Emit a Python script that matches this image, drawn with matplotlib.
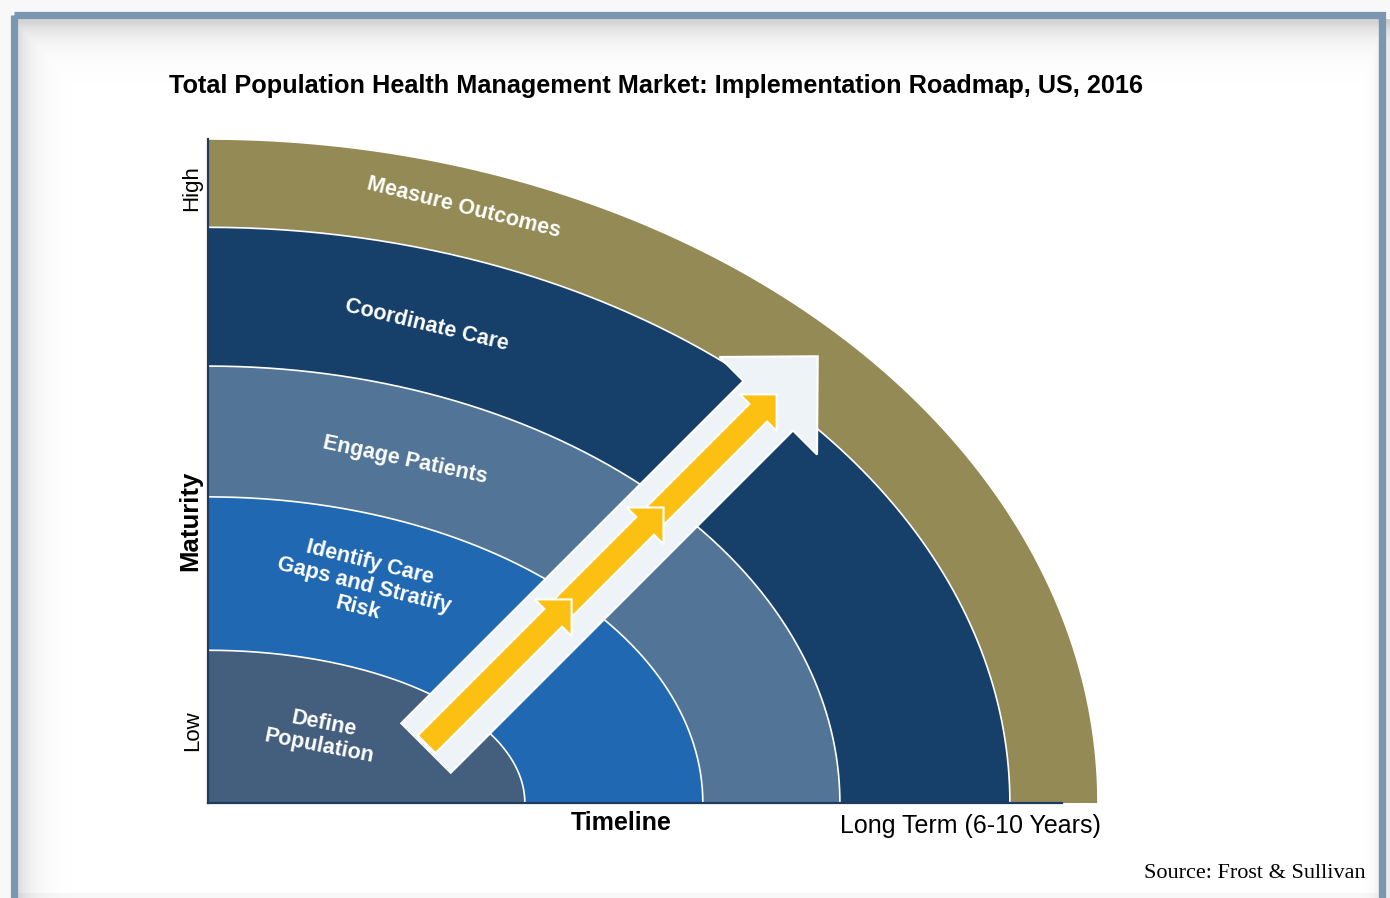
"""Total Population Health Management — implementation roadmap (quarter-ellipse stages)."""
import matplotlib.pyplot as plt
import numpy as np
from matplotlib.patches import Polygon, Rectangle

plt.rcParams["font.family"] = ["Liberation Sans", "DejaVu Sans"]

# ── 資料 ────────────────────────────────────────────────────────────
stages = [
    "Define\nPopulation",
    "Identify Care\nGaps and Stratify\nRisk",
    "Engage Patients",
    "Coordinate Care",
    "Measure Outcomes",
]
stage_colors = ["#445E7D", "#2068B2", "#527597", "#16406A", "#948A55"]
# 每個階段在時間軸 / 成熟度軸上的外緣（以整張圖的比例表示）
timeline_extent = [0.356, 0.556, 0.710, 0.901, 1.0]
maturity_extent = [0.230, 0.461, 0.658, 0.867, 1.0]

title = "Total Population Health Management Market: Implementation Roadmap, US, 2016"
y_label, y_low, y_high = "Maturity", "Low", "High"
x_label, x_end = "Timeline", "Long Term (6-10 Years)"
source = "Source: Frost & Sullivan"

# ── 版面（像素座標） ────────────────────────────────────────────────
W_PX, H_PX = 1390, 898
X0, Y0 = 208, 803          # 原點
CW, CH = 890, 664          # 圖區寬高
label_xy = [(0.128, 0.102), (0.175, 0.328), (0.221, 0.517), (0.246, 0.720), (0.287, 0.896)]
label_rot = [-11, -14, -12, -13.5, -14]


def to_px(tx, my):
    return X0 + tx * CW, Y0 - my * CH


def quarter(rx, ry, n=200):
    th = np.linspace(0, np.pi / 2, n)
    xs = X0 + rx * CW * np.cos(th)
    ys = Y0 - ry * CH * np.sin(th)
    return xs, ys


def arrow_poly(s0, s_head, s_tip, half_w, head_w, T, u, v):
    """依沿箭頭方向 (s) 與垂直方向 (t) 的座標組出箭頭多邊形。"""
    pts = [(s0, -half_w), (s_head, -half_w), (s_head, -head_w), (s_tip, 0),
           (s_head, head_w), (s_head, half_w), (s0, half_w)]
    return [(T[0] + s * u[0] + t * v[0], T[1] + s * u[1] + t * v[1]) for s, t in pts]


fig = plt.figure(figsize=(W_PX / 100, H_PX / 100), dpi=100, facecolor="#F8F8F8")
ax = fig.add_axes([0, 0, 1, 1])
ax.set_xlim(0, W_PX)
ax.set_ylim(H_PX, 0)
ax.axis("off")

# 外框與內陰影
ax.add_patch(Rectangle((17, 19), 1361, 874, facecolor="white", edgecolor="none", zorder=0))
yy, xx = np.mgrid[0:H_PX, 0:W_PX]
shade = np.maximum.reduce([
    0.17 * np.exp(-np.clip(yy - 22, 0, None) / 16.0),
    0.13 * np.exp(-np.clip(xx - 19, 0, None) / 15.0),
    0.06 * np.exp(-np.clip(1378 - xx, 0, None) / 6.0),
])
rgba = np.zeros((H_PX, W_PX, 4))
rgba[..., 3] = shade
rgba[yy < 19, 3] = 0
rgba[xx < 17, 3] = 0
ax.imshow(rgba, extent=(0, W_PX, H_PX, 0), zorder=1, interpolation="bilinear")
ax.add_patch(Rectangle((13.5, 15), 1368, 905, fill=False, edgecolor="#7A96B0", lw=5.2, zorder=2))

# 各階段（由外而內）
for i in reversed(range(len(stages))):
    xs, ys = quarter(timeline_extent[i], maturity_extent[i])
    poly = np.column_stack([np.r_[X0, xs, X0], np.r_[Y0, ys, Y0]])
    ax.add_patch(Polygon(poly, closed=True, facecolor=stage_colors[i], edgecolor="none", zorder=3))
    ax.plot(xs, ys, color="white", lw=1.2, zorder=4)

for i, name in enumerate(stages):
    x, y = to_px(*label_xy[i])
    ax.text(x, y, name, color="white", fontsize=15.5, fontweight="bold", ha="center", va="center",
            rotation=label_rot[i], rotation_mode="anchor", linespacing=1.15, zorder=8)

# 大箭頭（淺色）與三段黃色箭頭
T = (426, 748)
u = (1 / np.sqrt(2), -1 / np.sqrt(2))
v = (1 / np.sqrt(2), 1 / np.sqrt(2))
ax.add_patch(Polygon(arrow_poly(0, 484, 554, 35, 69, T, u, v), closed=True,
                     facecolor="#EEF3F8", edgecolor="white", lw=1.5, zorder=5))
for s0, s_tip in reversed([(3, 208), (197, 338), (327, 498)]):
    ax.add_patch(Polygon(arrow_poly(s0, s_tip - 26, s_tip, 12.5, 26, (T[0] - 1.5, T[1] - 1.5), u, v),
                         closed=True, facecolor="#FBC012", edgecolor="white", lw=1.5, zorder=6))

# 座標軸線
ax.plot([X0, X0], [Y0, Y0 - CH], color="#1F3A60", lw=1.6, zorder=7)
ax.plot([X0, X0 + 0.96 * CW], [Y0, Y0], color="#1F3A60", lw=1.6, zorder=7)

# 文字
ax.text(656, 86, title, fontsize=18.2, fontweight="bold", ha="center", va="center", zorder=9)
ax.text(190, 521, y_label, fontsize=18.5, fontweight="bold", rotation=90, ha="center", va="center", zorder=9)
ax.text(192, 188, y_high, fontsize=16, rotation=90, ha="center", va="center", zorder=9)
ax.text(193, 731, y_low, fontsize=16, rotation=90, ha="center", va="center", zorder=9)
ax.text(621, 823, x_label, fontsize=18, fontweight="bold", ha="center", va="center", zorder=9)
ax.text(970, 826, x_end, fontsize=18, ha="center", va="center", zorder=9)
ax.text(1366, 873, source, fontsize=16, family=["Liberation Serif", "DejaVu Serif"],
        ha="right", va="center", zorder=9)

fig.savefig("out.png", dpi=100, facecolor=fig.get_facecolor())
